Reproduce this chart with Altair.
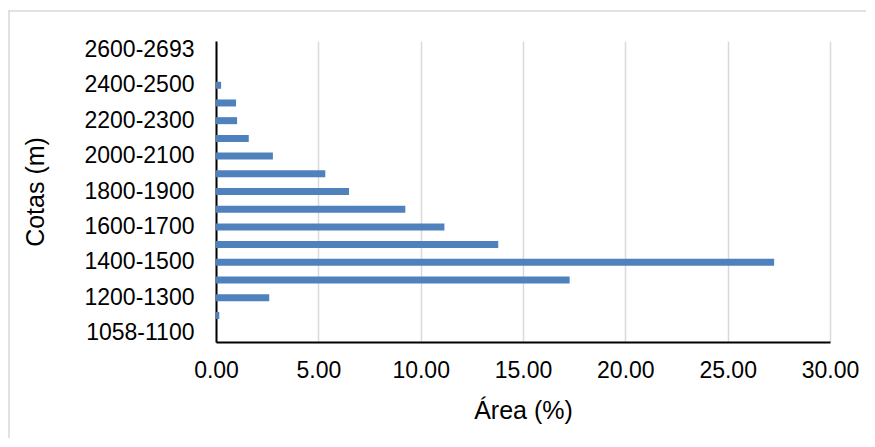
import altair as alt
import pandas as pd

cotas = ["1058-1100", "1100-1200", "1200-1300", "1300-1400", "1400-1500",
         "1500-1600", "1600-1700", "1700-1800", "1800-1900", "1900-2000",
         "2000-2100", "2100-2200", "2200-2300", "2300-2400", "2400-2500",
         "2500-2600", "2600-2693"]
area = [0.0, 0.16, 2.60, 17.28, 27.27, 13.79, 11.16, 9.25, 6.50, 5.34,
        2.78, 1.60, 1.03, 0.98, 0.25, 0.0, 0.0]
x_ticks = [0, 5, 10, 15, 20, 25, 30]
y_labels = cotas[::2]

df = pd.DataFrame({"Cotas": cotas, "Area": area})

W, H = 614, 301
PAD_L, PAD_T = 208, 33

bars = alt.Chart(df).mark_bar(size=7, color="#4F81BD").encode(
    x=alt.X("Area:Q",
            scale=alt.Scale(domain=[0, 30], nice=False, zero=True),
            axis=alt.Axis(values=x_ticks, format=".2f", title="Área (%)",
                          grid=True, gridColor="#D9D9D9", gridWidth=1.5,
                          ticks=False, domainColor="#000000", domainWidth=2,
                          labelFlush=False, labelOverlap=False,
                          labelPadding=17, labelFontSize=23, labelColor="#000000",
                          titleFontSize=25, titleFontWeight="normal", titleColor="#000000",
                          titleY=68, titleBaseline="middle")),
    y=alt.Y("Cotas:N", sort=list(reversed(cotas)),
            scale=alt.Scale(paddingInner=0, paddingOuter=0),
            axis=alt.Axis(values=y_labels, title="Cotas (m)", grid=False,
                          ticks=False, domainColor="#000000", domainWidth=2,
                          labelOverlap=False,
                          labelPadding=22, labelFontSize=23, labelColor="#000000",
                          titleFontSize=25, titleFontWeight="normal", titleColor="#000000",
                          titleAngle=-90, titleX=-181, titleY=H / 2,
                          titleAlign="center", titleBaseline="middle")),
)

frame_df = pd.DataFrame({"k": [0]})
top_line = alt.Chart(frame_df).mark_rule(color="#D9D9D9", strokeWidth=1.5).encode(
    x=alt.value(-PAD_L), x2=alt.value(W + 60), y=alt.value(-30))
left_line = alt.Chart(frame_df).mark_rule(color="#D9D9D9", strokeWidth=1.5).encode(
    x=alt.value(-207), y=alt.value(-30), y2=alt.value(H + 110))

chart = alt.layer(top_line, left_line, bars).properties(
    width=W, height=H,
    autosize=alt.AutoSizeParams(type="none"),
    padding={"left": PAD_L, "top": PAD_T, "right": 36, "bottom": 96},
).configure(font="Liberation Sans").configure_view(stroke=None)

chart.save("out.html", embed_options={"renderer": "svg", "actions": False})
